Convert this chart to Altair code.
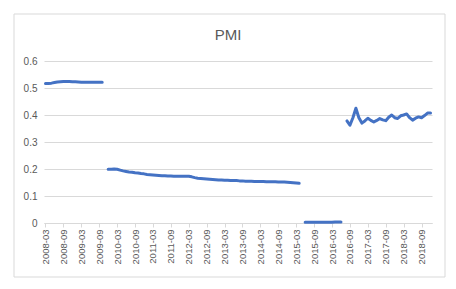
import altair as alt
import pandas as pd

# Monthly categories 2008-03 .. 2018-12
months = []
y, m = 2008, 3
while (y, m) <= (2018, 12):
    months.append(f"{y}-{m:02d}")
    m += 1
    if m > 12:
        m = 1
        y += 1

seg1 = [0.517, 0.517, 0.518, 0.520, 0.522, 0.523, 0.524, 0.524, 0.524, 0.523,
        0.523, 0.522, 0.521, 0.521, 0.521, 0.521, 0.521, 0.521, 0.521, 0.521]  # 2008-03..2009-10
seg2 = [0.199, 0.199, 0.200, 0.199, 0.196, 0.193, 0.191, 0.189, 0.188, 0.186,
        0.185, 0.183, 0.182, 0.180, 0.179, 0.178, 0.177, 0.176, 0.175, 0.175,
        0.174, 0.174, 0.173, 0.173, 0.173, 0.173, 0.173, 0.173, 0.171, 0.168,
        0.166, 0.165, 0.164, 0.163, 0.162, 0.161, 0.160, 0.159, 0.159, 0.158,
        0.158, 0.157, 0.157, 0.157, 0.156, 0.156, 0.155, 0.155, 0.155, 0.154,
        0.154, 0.154, 0.154, 0.153, 0.153, 0.153, 0.153, 0.152, 0.152, 0.152,
        0.151, 0.150, 0.149, 0.148, 0.147]  # 2009-12..2015-04
seg3 = [0.003, 0.003, 0.003, 0.003, 0.003, 0.003, 0.003, 0.003, 0.003, 0.003,
        0.004, 0.004, 0.004]  # 2015-06..2016-06
seg4 = [0.378, 0.362, 0.390, 0.425, 0.390, 0.370, 0.378, 0.388, 0.380, 0.374,
        0.380, 0.387, 0.382, 0.379, 0.392, 0.400, 0.390, 0.387, 0.397, 0.400,
        0.404, 0.390, 0.381, 0.388, 0.393, 0.390, 0.398, 0.407, 0.407]  # 2016-08..2018-12

values = seg1 + [None] + seg2 + [None] + seg3 + [None] + seg4
tick_labels = months[::6]
title_text = "PMI"

df = pd.DataFrame({"month": months, "pmi": values})
df["seg"] = df["pmi"].isna().cumsum()
df = df.dropna()

GRAY = "#595959"
FONT = "Liberation Sans"

line = alt.Chart(df).mark_line(color="#4472C4", strokeWidth=3, strokeCap="round", strokeJoin="round").encode(
    x=alt.X("month:O", sort=months,
            scale=alt.Scale(domain=months, padding=0.5),
            axis=alt.Axis(title=None, values=tick_labels, labelAngle=-90, labelFontSize=9.5,
                          labelColor=GRAY, labelFont=FONT, domainColor="#d9d9d9",
                          tickColor="#d9d9d9", tickSize=4, labelPadding=2, grid=False)),
    y=alt.Y("pmi:Q", scale=alt.Scale(domain=[0, 0.6], nice=False),
            axis=alt.Axis(title=None, values=[0, 0.1, 0.2, 0.3, 0.4, 0.5, 0.6], format=".1~f",
                          labelFontSize=10, labelColor=GRAY, labelFont=FONT,
                          domain=False, ticks=False, labelPadding=7,
                          gridColor="#d9d9d9", gridWidth=1)),
    detail="seg:N",
)

border = alt.Chart(alt.Data(values=[{}])).mark_rect(fill=None, stroke="#d9d9d9", strokeWidth=1).encode(
    x=alt.value(-30), x2=alt.value(401), y=alt.value(-47), y2=alt.value(216)
)

title = alt.Chart(alt.Data(values=[{}])).mark_text(
    text=title_text, fontSize=15, font=FONT, color=GRAY, align="center", baseline="middle"
).encode(x=alt.value(184), y=alt.value(-26))

chart = alt.layer(border, line, title).properties(
    width=388, height=162,
    autosize=alt.AutoSizeParams(type="none"),
    padding={"left": 36, "top": 53, "right": 16, "bottom": 58},
).configure_view(stroke=None)

chart.save("out.html", embed_options={"renderer": "svg", "actions": False})
